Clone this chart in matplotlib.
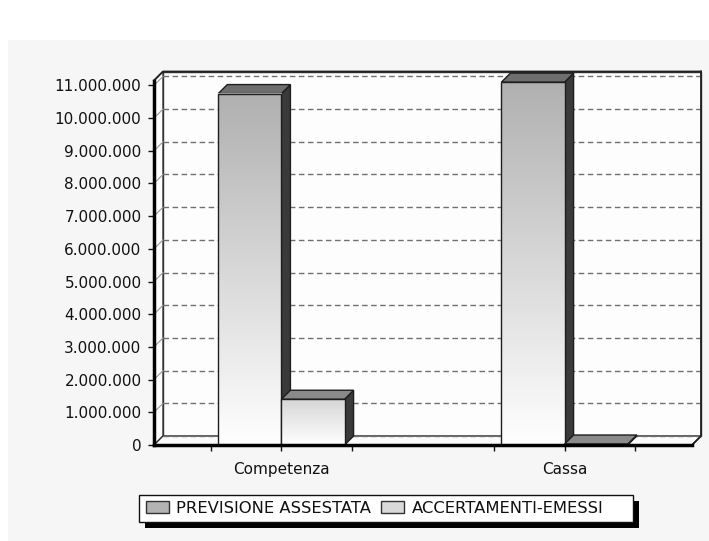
import numpy as np
import matplotlib
matplotlib.use('Agg')
import matplotlib.pyplot as plt
from matplotlib.patches import Polygon, Rectangle, Patch
from matplotlib.lines import Line2D
from matplotlib.colors import LinearSegmentedColormap
from matplotlib.ticker import FuncFormatter, MultipleLocator

# ---- data ----
categories = ['Competenza', 'Cassa']
series_names = ['PREVISIONE ASSESTATA', 'ACCERTAMENTI-EMESSI']
previsione = [10750000, 11100000]
accertamenti = [1400000, 30000]
y_ticks = list(range(0, 11000001, 1000000))

# ---- styles ----
front_top = ['#b0b0b0', '#d6d6d6']
top_face = ['#6e6e6e', '#8a8a8a']
side_face = '#3a3a3a'
legend_colors = ['#b3b3b3', '#d9d9d9']

plt.rcParams['font.family'] = ['DejaVu Sans']

W, H, DPI = 709, 541, 100
fig = plt.figure(figsize=(W / DPI, H / DPI), dpi=DPI, facecolor='white')
fig.patches.append(Rectangle((8 / W, 0), 1, (H - 40) / H, transform=fig.transFigure,
                             facecolor='#f6f6f6', edgecolor='none', zorder=-10))

ax_left, ax_right, ax_bottom, ax_top = 154, 692, 445, 80.5
ax = fig.add_axes([ax_left / W, (H - ax_bottom) / H,
                   (ax_right - ax_left) / W, (ax_bottom - ax_top) / H])
xmin, xmax = -0.45, 1.45
ymax = 11150000
ax.patch.set_visible(False)

# depth of the pseudo-3D box, in data units
depth_px = 9
dx = depth_px * (xmax - xmin) / (ax_right - ax_left)
dy = depth_px * ymax / (ax_bottom - ax_top)

# back wall
ax.add_patch(Rectangle((xmin + dx, dy), xmax - xmin, ymax, facecolor='#fdfdfd',
                       edgecolor='#333333', lw=1, zorder=1, clip_on=False))
# left wall
ax.add_patch(Polygon([(xmin, 0), (xmin + dx, dy), (xmin + dx, ymax + dy), (xmin, ymax)],
                     closed=True, facecolor='#ffffff', edgecolor='#333333', lw=1,
                     zorder=1.1, clip_on=False))
# floor
ax.add_patch(Polygon([(xmin, 0), (xmax, 0), (xmax + dx, dy), (xmin + dx, dy)],
                     closed=True, facecolor='#fbfbfb', edgecolor='#333333', lw=1,
                     zorder=1.2, clip_on=False))

# gridlines on the back wall plus their slants on the left wall
for t in y_ticks:
    ax.add_line(Line2D([xmin + dx, xmax + dx], [t + dy, t + dy], color='#707070',
                       lw=1, dashes=(4, 2.5), zorder=1.5, clip_on=False))
    if t > 0:
        ax.add_line(Line2D([xmin, xmin + dx], [t, t + dy], color='#9a9a9a',
                           lw=0.8, zorder=1.5, clip_on=False))

# bars
w = 0.223
grad = np.linspace(0, 1, 256).reshape(-1, 1)
z = 3
for i, cat in enumerate(categories):
    for j, vals in enumerate([previsione, accertamenti]):
        h = vals[i]
        x0 = i - w + j * w
        x1 = x0 + w
        # side face
        ax.add_patch(Polygon([(x1, 0), (x1 + dx, dy), (x1 + dx, h + dy), (x1, h)],
                             closed=True, facecolor=side_face, edgecolor='#1e1e1e',
                             lw=1, zorder=z, clip_on=False))
        # top face
        ax.add_patch(Polygon([(x0, h), (x0 + dx, h + dy), (x1 + dx, h + dy), (x1, h)],
                             closed=True, facecolor=top_face[j], edgecolor='#1e1e1e',
                             lw=1, zorder=z + 0.1, clip_on=False))
        # front face with vertical gradient
        cmap = LinearSegmentedColormap.from_list('g%d' % j, ['#ffffff', front_top[j]])
        ax.imshow(grad, extent=(x0, x1, 0, h), origin='lower', aspect='auto',
                  cmap=cmap, interpolation='bilinear', zorder=z + 0.2, clip_on=False)
        ax.add_patch(Rectangle((x0, 0), w, h, facecolor='none', edgecolor='#1e1e1e',
                               lw=1, zorder=z + 0.3, clip_on=False))
        z += 1

# top edges of the box
ax.add_line(Line2D([xmin, xmin + dx, xmax + dx], [ymax, ymax + dy, ymax + dy],
                   color='#222222', lw=1.3, zorder=z, clip_on=False))
ax.add_line(Line2D([xmax + dx, xmax + dx, xmax], [ymax + dy, dy, 0],
                   color='#222222', lw=1.3, zorder=z, clip_on=False))

ax.set_xlim(xmin, xmax)
ax.set_ylim(0, ymax)

# axes / spines
for s in ['top', 'right']:
    ax.spines[s].set_visible(False)
for s in ['left', 'bottom']:
    ax.spines[s].set_linewidth(2.5)
    ax.spines[s].set_color('black')
    ax.spines[s].set_zorder(50)

ax.set_yticks(y_ticks)
ax.yaxis.set_major_formatter(FuncFormatter(lambda v, p: f'{int(v):,}'.replace(',', '.')))
ax.yaxis.set_minor_locator(MultipleLocator(200000))
ax.tick_params(axis='y', which='major', length=4, width=1, direction='out',
               pad=5, labelsize=11, colors='#111111')
ax.tick_params(axis='y', which='minor', length=2, width=0.8, direction='inout')

centers = list(range(len(categories)))
ax.set_xticks(centers)
ax.set_xticklabels(categories)
ax.set_xticks([c + o for c in centers for o in (-0.248, 0.248)], minor=True)
ax.tick_params(axis='x', which='both', length=4, width=1, direction='out',
               pad=8, labelsize=11, colors='#111111')

# legend with a hard drop shadow
lx, ly, lw_, lh = 139, 495, 494, 27
fig.patches.append(Rectangle(((lx + 6) / W, 1 - (ly + lh + 6) / H), lw_ / W, lh / H,
                             transform=fig.transFigure, facecolor='black',
                             edgecolor='none', zorder=3))
fig.patches.append(Rectangle((lx / W, 1 - (ly + lh) / H), lw_ / W, lh / H,
                             transform=fig.transFigure, facecolor='white',
                             edgecolor='#111111', lw=1, zorder=4))
handles = [Patch(facecolor=c, edgecolor='#333333', lw=1) for c in legend_colors]
leg = fig.legend(handles, series_names, loc='center left',
                 bbox_to_anchor=((lx + 7) / W, 1 - (ly + lh / 2) / H), ncol=2,
                 frameon=False, fontsize=11.8, handlelength=1.4, handleheight=0.75,
                 handletextpad=0.45, columnspacing=0.6, borderpad=0, borderaxespad=0)
for t in leg.get_texts():
    t.set_color('#111111')
leg.set_zorder(5)

fig.savefig('out.png', dpi=DPI, facecolor=fig.get_facecolor())
